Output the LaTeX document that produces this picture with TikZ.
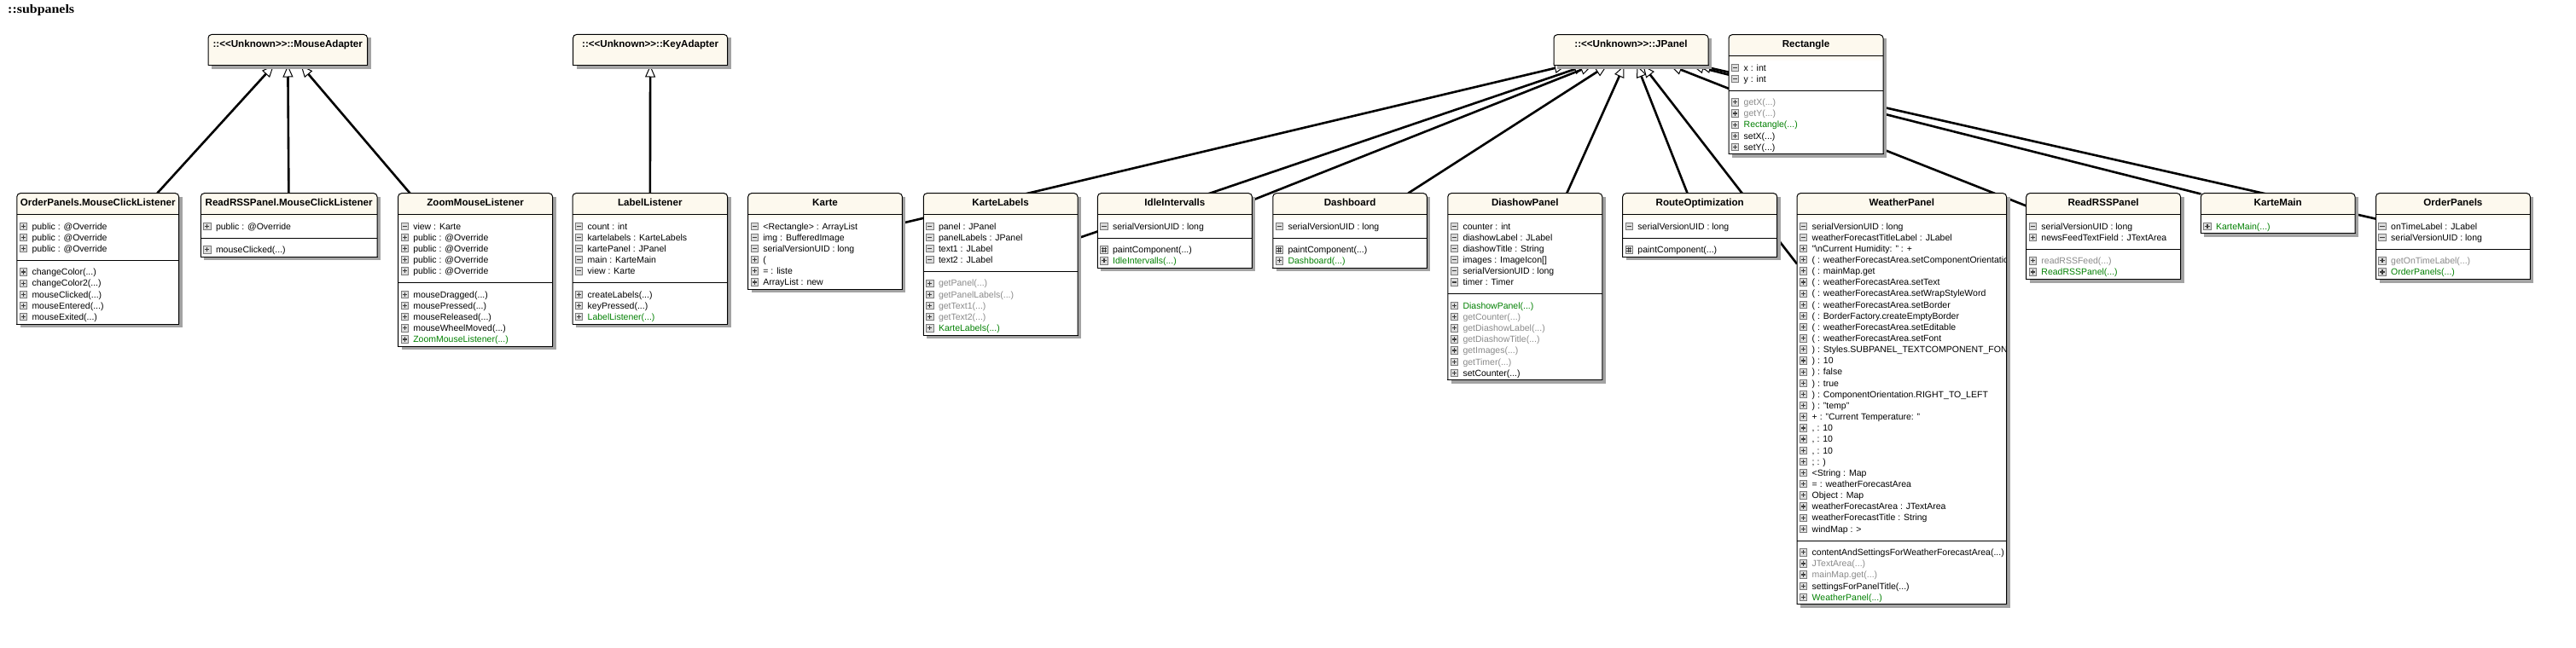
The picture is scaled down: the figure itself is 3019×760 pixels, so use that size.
\documentclass[tikz,border=0pt]{standalone}
\usepackage{fontspec}
\setmainfont{Liberation Sans}
\newfontfamily\headfont{Liberation Serif}[FakeStretch=1.1]
\usetikzlibrary{arrows.meta,backgrounds}
\pgfdeclarelayer{bottom}
\pgfsetlayers{bottom,background,main}

\definecolor{cream}{HTML}{FDF9EE}
\definecolor{shadowgray}{HTML}{A3A3A3}
\definecolor{cgreen}{HTML}{008000}
\definecolor{cgray}{HTML}{8A8A8A}
\definecolor{iconfill}{HTML}{DCDCDC}
\definecolor{iconline}{HTML}{7A7A7A}
\definecolor{iconsym}{HTML}{3C3C3C}

\newcount\myrowc

\tikzset{
 rowtext/.style={anchor=base west, inner sep=0pt, font=\fontsize{10.5}{12}\selectfont},
 titletext/.style={anchor=base, inner sep=0pt, font=\fontsize{11.6}{13}\selectfont\bfseries},
 boxline/.style={draw=black, line width=1pt},
 holder/.style={draw=none, fill=none, inner sep=0pt, outer sep=0pt, anchor=north west},
 iconbox/.style={draw=iconline, fill=iconfill, line width=0.8pt},
 iconmark/.style={draw=iconsym, line width=1.2pt},
 inherit/.style={line width=2.6pt, -{Triangle[fill=white, length=14pt, width=12pt, line width=1pt]}},
}

\newcommand\myicon[3]{%
  \path[iconbox] (#2-4.2,#3-4.2) rectangle (#2+4.2,#3+4.2);
  \if m#1\draw[iconmark] (#2-2.6,#3) -- (#2+2.6,#3);\fi
  \if p#1\draw[iconmark] (#2-2.6,#3) -- (#2+2.6,#3) (#2,#3-2.6) -- (#2,#3+2.6);\fi
  \if h#1\draw[iconmark, line width=0.8pt] (#2-1.3,#3-3) -- (#2-1.3,#3+3) (#2+1.3,#3-3) -- (#2+1.3,#3+3) (#2-3,#3-1.3) -- (#2+3,#3-1.3) (#2-3,#3+1.3) -- (#2+3,#3+1.3);\fi
}

\newcommand\rw[3]{%
  \global\advance\myrowc by 1
  \pgfmathsetmacro\mytx{\myrowx+17.5}%
  \pgfmathsetmacro\myty{\myrowy+3.8}%
  \pgfmathsetmacro\myix{\myrowx+7.5}%
  \edef\myrname{row\the\myrowc}%
  \node[rowtext, text=#2] (\myrname) at (\mytx,\myty) {#3};
  \myicon{#1}{\myix}{\myrowy}
  \pgfmathsetmacro\mynext{\myrowy+13.15}%
  \global\let\myrowy\mynext
}

\newcommand\classbox[7]{%
  \ifnum#5>0
    \ifnum#6>0 \def\mypad{14}\else\def\mypad{8.5}\fi
    \pgfmathsetmacro\myhA{13.5+(#5-1)*13.15+\mypad}%
  \else \def\myhA{0}\fi
  \ifnum#6>0 \pgfmathsetmacro\myhM{13.5+(#6-1)*13.15+8.5}\else\def\myhM{0}\fi
  \pgfmathsetmacro\myhT{25+\myhA+\myhM}%
  \pgfmathsetmacro\myxR{#2+#4}%
  \pgfmathsetmacro\myyB{#3+\myhT}%
  \pgfmathsetmacro\myyH{#3+25}%
  \fill[shadowgray] (#2+4,#3+4) rectangle (\myxR+4,\myyB+4);
  \node[holder, minimum width=#4pt, minimum height=\myhT pt] (#1) at (#2,#3) {};
  \fill[white] (#2,\myyH) rectangle (\myxR,\myyB);
  \shade[top color=cream, bottom color=white] (#2,\myyH) rectangle (\myxR,\myyH+6);
  \fill[cream, rounded corners=4pt] (#2,#3) rectangle (\myxR,\myyH);
  \fill[cream] (#2,#3+10) rectangle (\myxR,\myyH);
  \draw[boxline, rounded corners=4pt] (#2,\myyB) -- (#2,#3) -- (\myxR,#3) -- (\myxR,\myyB);
  \draw[boxline] (#2-0.5,\myyB) -- (\myxR+0.5,\myyB);
  \draw[boxline] (#2,\myyH) -- (\myxR,\myyH);
  \ifnum#5>0 \ifnum#6>0
    \pgfmathsetmacro\mysy{\myyH+\myhA}%
    \draw[boxline] (#2,\mysy) -- (\myxR,\mysy);
    \xdef\mysepy{\mysy}%
  \fi\fi
  \node[titletext] (#1-title) at (#2+#4/2,#3+14.7) {#7};
  \xdef\myrowx{#2}%
  \pgfmathsetmacro\myr{\myyH+13.5}\xdef\myrowy{\myr}%
}

\newcommand\msec{\pgfmathsetmacro\myr{\mysepy+13.5}\xdef\myrowy{\myr}}

\newcommand\stereobox[6]{%
  \pgfmathsetmacro\myxR{#2+#4}\pgfmathsetmacro\myyB{#3+#5}%
  \fill[shadowgray] (#2+4,#3+4) rectangle (\myxR+4,\myyB+4);
  \node[holder, minimum width=#4pt, minimum height=#5pt] (#1) at (#2,#3) {};
  \fill[cream, rounded corners=4pt] (#2,#3) rectangle (\myxR,\myyB);
  \fill[cream] (#2,#3+10) rectangle (\myxR,\myyB);
  \draw[boxline, rounded corners=4pt] (#2,\myyB) -- (#2,#3) -- (\myxR,#3) -- (\myxR,\myyB);
  \draw[boxline] (#2-0.5,\myyB) -- (\myxR+0.5,\myyB);
  \node[titletext] (#1-title) at (#2+#4/2,#3+14.7) {#6};
}

\newcommand\unk{::<\kern0pt<Unknown>\kern0pt>::}

\begin{document}
\begin{tikzpicture}[x=1pt,y=-1pt]
\useasboundingbox (0,0) rectangle (3019,760);
\begin{pgfonlayer}{bottom}
\fill[white] (0,0) rectangle (3019,760);
\end{pgfonlayer}

\node[anchor=base west, inner sep=0pt, font=\headfont\bfseries\fontsize{14.5}{16}\selectfont] (pkg) at (9,16) {::subpanels};

% superclasses
\stereobox{mouseadapter}{244}{40.5}{186.5}{36}{\unk MouseAdapter}
\stereobox{keyadapter}{671.6}{40.5}{181}{36}{\unk KeyAdapter}
\stereobox{jpanel}{1821}{40.7}{181}{36}{\unk JPanel}

% Rectangle
\classbox{rectangle}{2026}{40.7}{181}{2}{5}{Rectangle}
\rw{m}{black}{x : int}
\rw{m}{black}{y : int}
\msec
\rw{p}{cgray}{getX(...)}
\rw{p}{cgray}{getY(...)}
\rw{p}{cgreen}{Rectangle(...)}
\rw{p}{black}{setX(...)}
\rw{p}{black}{setY(...)}

% OrderPanels.MouseClickListener
\classbox{ompl}{19.8}{226.7}{189.8}{3}{5}{OrderPanels.MouseClickListener}
\rw{p}{black}{public : @Override}
\rw{p}{black}{public : @Override}
\rw{p}{black}{public : @Override}
\msec
\rw{p}{black}{changeColor(...)}
\rw{p}{black}{changeColor2(...)}
\rw{p}{black}{mouseClicked(...)}
\rw{p}{black}{mouseEntered(...)}
\rw{p}{black}{mouseExited(...)}

% ReadRSSPanel.MouseClickListener
\classbox{rrmcl}{235.3}{226.7}{206.7}{1}{1}{ReadRSSPanel.MouseClickListener}
\rw{p}{black}{public : @Override}
\msec
\rw{p}{black}{mouseClicked(...)}

% ZoomMouseListener
\classbox{zml}{466.6}{226.7}{181}{5}{5}{ZoomMouseListener}
\rw{m}{black}{view : Karte}
\rw{p}{black}{public : @Override}
\rw{p}{black}{public : @Override}
\rw{p}{black}{public : @Override}
\rw{p}{black}{public : @Override}
\msec
\rw{p}{black}{mouseDragged(...)}
\rw{p}{black}{mousePressed(...)}
\rw{p}{black}{mouseReleased(...)}
\rw{p}{black}{mouseWheelMoved(...)}
\rw{p}{cgreen}{ZoomMouseListener(...)}

% LabelListener
\classbox{labellistener}{671}{226.7}{181.6}{5}{3}{LabelListener}
\rw{m}{black}{count : int}
\rw{m}{black}{kartelabels : KarteLabels}
\rw{m}{black}{kartePanel : JPanel}
\rw{m}{black}{main : KarteMain}
\rw{m}{black}{view : Karte}
\msec
\rw{p}{black}{createLabels(...)}
\rw{p}{black}{keyPressed(...)}
\rw{p}{cgreen}{LabelListener(...)}

% Karte
\classbox{karte}{876.7}{226.7}{180.7}{6}{0}{Karte}
\rw{m}{black}{<Rectangle> : ArrayList}
\rw{m}{black}{img : BufferedImage}
\rw{m}{black}{serialVersionUID : long}
\rw{p}{black}{(}
\rw{p}{black}{= : liste}
\rw{p}{black}{ArrayList : new}

% KarteLabels
\classbox{kartelabels}{1082.3}{226.7}{180.7}{4}{5}{KarteLabels}
\rw{m}{black}{panel : JPanel}
\rw{m}{black}{panelLabels : JPanel}
\rw{m}{black}{text1 : JLabel}
\rw{m}{black}{text2 : JLabel}
\msec
\rw{p}{cgray}{getPanel(...)}
\rw{p}{cgray}{getPanelLabels(...)}
\rw{p}{cgray}{getText1(...)}
\rw{p}{cgray}{getText2(...)}
\rw{p}{cgreen}{KarteLabels(...)}

% IdleIntervalls
\classbox{idle}{1286.4}{226.7}{181}{1}{2}{IdleIntervalls}
\rw{m}{black}{serialVersionUID : long}
\msec
\rw{h}{black}{paintComponent(...)}
\rw{p}{cgreen}{IdleIntervalls(...)}

% Dashboard
\classbox{dashboard}{1491.8}{226.7}{180.5}{1}{2}{Dashboard}
\rw{m}{black}{serialVersionUID : long}
\msec
\rw{h}{black}{paintComponent(...)}
\rw{p}{cgreen}{Dashboard(...)}

% DiashowPanel
\classbox{diashow}{1696.8}{226.7}{181}{6}{7}{DiashowPanel}
\rw{m}{black}{counter : int}
\rw{m}{black}{diashowLabel : JLabel}
\rw{m}{black}{diashowTitle : String}
\rw{m}{black}{images : ImageIcon[]}
\rw{m}{black}{serialVersionUID : long}
\rw{m}{black}{timer : Timer}
\msec
\rw{p}{cgreen}{DiashowPanel(...)}
\rw{p}{cgray}{getCounter(...)}
\rw{p}{cgray}{getDiashowLabel(...)}
\rw{p}{cgray}{getDiashowTitle(...)}
\rw{p}{cgray}{getImages(...)}
\rw{p}{cgray}{getTimer(...)}
\rw{p}{black}{setCounter(...)}

% RouteOptimization
\classbox{route}{1901.7}{226.7}{181}{1}{1}{RouteOptimization}
\rw{m}{black}{serialVersionUID : long}
\msec
\rw{h}{black}{paintComponent(...)}

% WeatherPanel
\classbox{weather}{2106}{226.7}{245.5}{28}{5}{WeatherPanel}
\begin{scope}
\clip (2106,226.7) rectangle (2351,720);
\rw{m}{black}{serialVersionUID : long}
\rw{m}{black}{weatherForecastTitleLabel : JLabel}
\rw{p}{black}{"\textbackslash nCurrent Humidity: " : +}
\rw{p}{black}{( : weatherForecastArea.setComponentOrientation}
\rw{p}{black}{( : mainMap.get}
\rw{p}{black}{( : weatherForecastArea.setText}
\rw{p}{black}{( : weatherForecastArea.setWrapStyleWord}
\rw{p}{black}{( : weatherForecastArea.setBorder}
\rw{p}{black}{( : BorderFactory.createEmptyBorder}
\rw{p}{black}{( : weatherForecastArea.setEditable}
\rw{p}{black}{( : weatherForecastArea.setFont}
\rw{p}{black}{) : Styles.SUBPANEL\_TEXTCOMPONENT\_FONT}
\rw{p}{black}{) : 10}
\rw{p}{black}{) : false}
\rw{p}{black}{) : true}
\rw{p}{black}{) : ComponentOrientation.RIGHT\_TO\_LEFT}
\rw{p}{black}{) : "temp"}
\rw{p}{black}{+ : "Current Temperature: "}
\rw{p}{black}{, : 10}
\rw{p}{black}{, : 10}
\rw{p}{black}{, : 10}
\rw{p}{black}{; : )}
\rw{p}{black}{<String : Map}
\rw{p}{black}{= : weatherForecastArea}
\rw{p}{black}{Object : Map}
\rw{p}{black}{weatherForecastArea : JTextArea}
\rw{p}{black}{weatherForecastTitle : String}
\rw{p}{black}{windMap : >}
\msec
\rw{p}{black}{contentAndSettingsForWeatherForecastArea(...)}
\rw{p}{cgray}{JTextArea(...)}
\rw{p}{cgray}{mainMap.get(...)}
\rw{p}{black}{settingsForPanelTitle(...)}
\rw{p}{cgreen}{WeatherPanel(...)}
\end{scope}

% ReadRSSPanel
\classbox{readrss}{2374.7}{226.7}{180.8}{2}{2}{ReadRSSPanel}
\rw{m}{black}{serialVersionUID : long}
\rw{p}{black}{newsFeedTextField : JTextArea}
\msec
\rw{p}{cgray}{readRSSFeed(...)}
\rw{p}{cgreen}{ReadRSSPanel(...)}

% KarteMain
\classbox{kartemain}{2579.4}{226.7}{180.6}{0}{1}{KarteMain}
\rw{p}{cgreen}{KarteMain(...)}

% OrderPanels
\classbox{orderpanels}{2784.5}{226.7}{180.8}{2}{2}{OrderPanels}
\rw{m}{black}{onTimeLabel : JLabel}
\rw{m}{black}{serialVersionUID : long}
\msec
\rw{p}{cgray}{getOnTimeLabel(...)}
\rw{p}{cgreen}{OrderPanels(...)}

% connectors
\begin{pgfonlayer}{background}
\draw[inherit] (ompl) -- (mouseadapter);
\draw[inherit] (rrmcl) -- (mouseadapter);
\draw[inherit] (zml) -- (mouseadapter);
\draw[inherit] (labellistener) -- (keyadapter);
\draw[inherit] (karte) -- (jpanel);
\draw[inherit] (kartelabels) -- (jpanel);
\draw[inherit] (idle) -- (jpanel);
\draw[inherit] (dashboard) -- (jpanel);
\draw[inherit] (diashow) -- (jpanel);
\draw[inherit] (route) -- (jpanel);
\draw[inherit] (weather) -- (jpanel);
\draw[inherit] (readrss) -- (jpanel);
\draw[inherit] (kartemain) -- (jpanel);
\draw[inherit] (orderpanels) -- (jpanel);
\end{pgfonlayer}
\end{tikzpicture}
\end{document}
